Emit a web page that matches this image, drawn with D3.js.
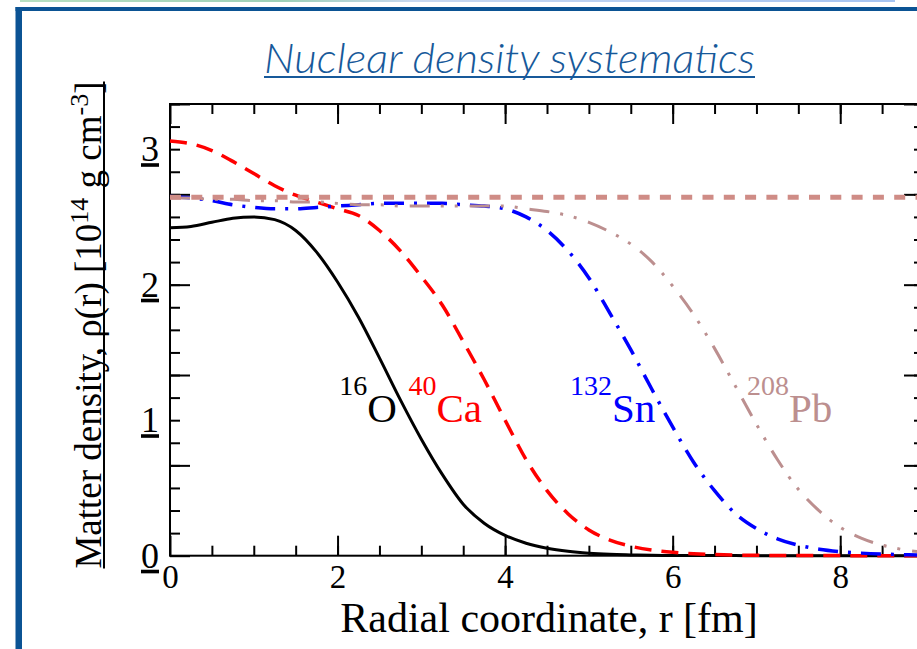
<!DOCTYPE html>
<html><head><meta charset="utf-8">
<script src="https://cdn.jsdelivr.net/npm/d3@7"></script>
<style>html,body{margin:0;padding:0;background:#fff;overflow:hidden}</style>
</head><body><svg id="c" width="917" height="649"></svg>
<script>
// ---------- data ----------
const radius = [0,0.25,0.5,0.75,1,1.25,1.5,1.75,2,2.25,2.5,2.75,3,3.25,3.5,3.75,4,4.25,4.5,4.75,5,5.25,5.5,5.75,6,6.25,6.5,6.75,7,7.25,7.5,7.75,8,8.25,8.5,8.75,9];
const densO16  = [2.42,2.43,2.46,2.49,2.50,2.48,2.40,2.24,2.02,1.76,1.46,1.15,0.86,0.60,0.38,0.24,0.15,0.092,0.055,0.032,0.018,0.010,0.006,0.003,0.002,0.001,0.001,0.001,0,0,0,0,0,0,0,0,0];
const densCa40 = [3.06,3.04,2.99,2.91,2.82,2.73,2.66,2.61,2.56,2.51,2.40,2.25,2.06,1.85,1.58,1.30,1.00,0.71,0.48,0.31,0.19,0.115,0.07,0.042,0.025,0.015,0.009,0.005,0.003,0.002,0.001,0.001,0.001,0,0,0,0];
const densSn132= [2.65,2.64,2.62,2.59,2.57,2.56,2.56,2.57,2.58,2.59,2.60,2.60,2.60,2.60,2.59,2.58,2.56,2.50,2.40,2.25,2.05,1.79,1.52,1.23,0.95,0.69,0.48,0.31,0.20,0.125,0.078,0.048,0.03,0.019,0.012,0.008,0.005];
const densPb208= [2.64,2.64,2.63,2.63,2.62,2.62,2.61,2.61,2.60,2.59,2.59,2.58,2.58,2.58,2.58,2.58,2.58,2.56,2.54,2.51,2.46,2.39,2.30,2.17,1.99,1.78,1.53,1.25,0.97,0.71,0.49,0.33,0.21,0.13,0.078,0.045,0.025];
const saturationDensity = 2.645;
const nuclei = [
  {mass:"16", sym:"O", color:"#000000"},
  {mass:"40", sym:"Ca", color:"#ff0000"},
  {mass:"132", sym:"Sn", color:"#0000ff"},
  {mass:"208", sym:"Pb", color:"#bc8f8f"}
];
const xMajorTicks = [0,2,4,6,8];
const xMinorTicks = [0.5,1,1.5,2,2.5,3,3.5,4,4.5,5,5.5,6,6.5,7,7.5,8,8.5,9];
const xTickLabels = ["0","2","4","6","8"];
const yMajorTicks = [0,2/3,4/3,2,8/3,10/3];
const yMinorTicks = [1/6,2/6,3/6,4/6,5/6,1,7/6,8/6,9/6,10/6,11/6,2,13/6,14/6,15/6,16/6,17/6,3,19/6,20/6];
const yLabelTicks = [0,1,2,3];
const yTickLabels = ["0","1","2","3"];
const titleText = "Nuclear density systematics";
const xTitle = "Radial coordinate, r [fm]";

// ---------- drawing ----------
const svg = d3.select("#c");
const serif = "'Liberation Serif','Times New Roman',serif";

// top decorative strip
const defs = svg.append("defs");
const g1 = defs.append("linearGradient").attr("id","strip");
g1.append("stop").attr("offset","0").attr("stop-color","#b7e0c2");
g1.append("stop").attr("offset","0.3").attr("stop-color","#9ed0b8");
g1.append("stop").attr("offset","0.45").attr("stop-color","#c8d8f0");
g1.append("stop").attr("offset","1").attr("stop-color","#a6c4f2");
svg.append("rect").attr("x",20).attr("y",0).attr("width",875).attr("height",2).attr("fill","url(#strip)");

// frame
svg.append("rect").attr("x",15.5).attr("y",7).attr("width",910).attr("height",4).attr("fill","#0b5394");
svg.append("rect").attr("x",15.5).attr("y",7).attr("width",6.5).attr("height",650).attr("fill","#0b5394");

// title
svg.append("text").attr("x",264).attr("y",73)
  .attr("textLength",491).attr("lengthAdjust","spacingAndGlyphs")
  .style("font-family","Lato,'Open Sans',sans-serif").style("font-weight",300)
  .style("font-style","italic").style("font-size","42px").attr("fill","#17599a")
  .text(titleText);
svg.append("line").attr("x1",264).attr("x2",755).attr("y1",77).attr("y2",77)
  .attr("stroke","#17599a").attr("stroke-width",2);

// scales
const x = d3.scaleLinear().domain([0,9]).range([170,924]);
const y = d3.scaleLinear().domain([0,10/3]).range([555.7,104]);

function styleAxis(g){
  g.select(".domain").remove();
  g.selectAll(".tick line").attr("stroke","#000").attr("stroke-width",2);
}
// minor & major ticks, all four sides
svg.append("g").attr("transform",`translate(0,${y(0)})`)
  .call(d3.axisBottom(x).tickValues(xMinorTicks).tickSize(-10).tickFormat("")).call(styleAxis);
svg.append("g").attr("transform",`translate(0,${y(0)})`)
  .call(d3.axisBottom(x).tickValues(xMajorTicks).tickSize(-20).tickPadding(9).tickFormat((d,i)=>xTickLabels[i]))
  .call(styleAxis)
  .selectAll("text").style("font-family",serif).style("font-size","33px").attr("fill","#000");
svg.append("g").attr("transform",`translate(0,${y(10/3)})`)
  .call(d3.axisTop(x).tickValues(xMinorTicks).tickSize(-10).tickFormat("")).call(styleAxis);
svg.append("g").attr("transform",`translate(0,${y(10/3)})`)
  .call(d3.axisTop(x).tickValues(xMajorTicks).tickSize(-20).tickFormat("")).call(styleAxis);
svg.append("g").attr("transform",`translate(${x(0)},0)`)
  .call(d3.axisLeft(y).tickValues(yMinorTicks).tickSize(-10).tickFormat("")).call(styleAxis);
svg.append("g").attr("transform",`translate(${x(0)},0)`)
  .call(d3.axisLeft(y).tickValues(yMajorTicks).tickSize(-20).tickFormat("")).call(styleAxis);
svg.append("g").attr("transform",`translate(${x(9)},0)`)
  .call(d3.axisRight(y).tickValues(yMinorTicks).tickSize(-10).tickFormat("")).call(styleAxis);
svg.append("g").attr("transform",`translate(${x(9)},0)`)
  .call(d3.axisRight(y).tickValues(yMajorTicks).tickSize(-20).tickFormat("")).call(styleAxis);
// y labels (underlined)
svg.append("g").attr("transform",`translate(${x(0)},0)`)
  .call(d3.axisLeft(y).tickValues(yLabelTicks).tickSize(0).tickPadding(11).tickFormat((d,i)=>yTickLabels[i]))
  .call(g=>g.select(".domain").remove())
  .selectAll("text").style("font-family",serif).style("font-size","36px").attr("fill","#000")
  .style("text-decoration","underline");

// plot frame
svg.append("rect").attr("x",x(0)).attr("y",y(10/3)).attr("width",x(9)-x(0)).attr("height",y(0)-y(10/3))
  .attr("fill","none").attr("stroke","#000").attr("stroke-width",2);

// curves
const line = d3.line().x((d,i)=>x(radius[i])).y(d=>y(d)).curve(d3.curveMonotoneX);
const curves = [
  {data:densO16,  color:"#000000", width:3,   dash:null},
  {data:densCa40, color:"#ff0000", width:3.5, dash:"17,10"},
  {data:densSn132,color:"#0000ff", width:3.5, dash:"20,10,3,10"},
  {data:densPb208,color:"#bc8f8f", width:3,   dash:"20,11,3,11,3,12"}
];
curves.forEach(c=>{
  svg.append("path").datum(c.data).attr("d",line).attr("fill","none")
    .attr("stroke",c.color).attr("stroke-width",c.width)
    .attr("stroke-dasharray",c.dash);
});
// saturation density line
svg.append("line").attr("x1",x(0)).attr("x2",x(9)).attr("y1",y(saturationDensity)).attr("y2",y(saturationDensity))
  .attr("stroke","#cf8c86").attr("stroke-width",5).attr("stroke-dasharray","11,10.3");

// nucleus labels
const labelPos = [2.02, 2.846, 4.774, 6.887];
nuclei.forEach((n,i)=>{
  const t = svg.append("text").attr("x",x(labelPos[i])).attr("y",y(0.99))
    .style("font-family",serif).attr("fill",n.color);
  t.append("tspan").style("font-size","28px").attr("dy",-27).text(n.mass);
  t.append("tspan").style("font-size","41px").attr("dy",27).text(n.sym);
});

// axis titles
svg.append("text").attr("x",549).attr("y",632).attr("text-anchor","middle")
  .style("font-family",serif).style("font-size","42px").attr("fill","#000").text(xTitle);
const yt = svg.append("text").attr("transform","translate(101,325) rotate(-90)").attr("text-anchor","middle")
  .style("font-family",serif).style("font-size","37px").attr("fill","#000");
yt.append("tspan").text("Matter density, ρ(r) [10");
yt.append("tspan").style("font-size","26px").attr("dy",-13).text("14");
yt.append("tspan").attr("dy",13).text(" g cm");
yt.append("tspan").style("font-size","26px").attr("dy",-13).text("-3");
yt.append("tspan").attr("dy",13).text("]");
const bb = yt.node().getBBox();
svg.append("line").attr("transform","translate(101,325) rotate(-90)")
  .attr("x1",bb.x).attr("x2",bb.x+bb.width).attr("y1",3).attr("y2",3)
  .attr("stroke","#000").attr("stroke-width",2);
</script></body></html>
